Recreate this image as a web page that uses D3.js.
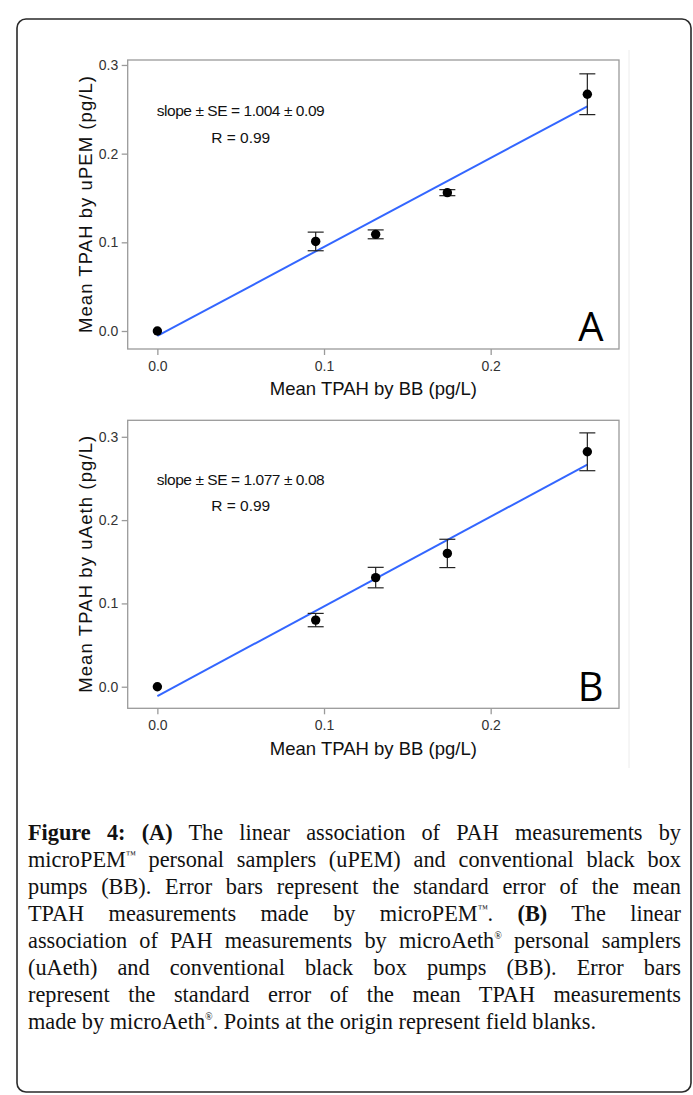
<!DOCTYPE html>
<html>
<head>
<meta charset="utf-8">
<script src="https://cdn.jsdelivr.net/npm/d3@7"></script>
<style>
  body { margin: 0; background: #fff; }
  #wrap { position: relative; width: 693px; height: 1095px; overflow: hidden; }
  #caption { position: absolute; left: 28px; top: 819px; width: 653px;
    font-family: "Liberation Serif", serif; font-size: 22.3px; line-height: 27px; color: #111; }
  #caption div { text-align: justify; text-align-last: justify; white-space: nowrap; height: 27px; }
  #caption div.last { text-align-last: left; }
  #caption b { font-weight: bold; }
  #caption .sup { font-size: 0.45em; position: relative; top: -0.9em; }
</style>
</head>
<body>
<div id="wrap">
  <svg id="chart" width="693" height="1095"></svg>
  <div id="caption"></div>
</div>
<script>
const xTicks = [0, 0.1, 0.2];
const yTicks = [0, 0.1, 0.2, 0.3];
const bbMean = [0, 0.095, 0.131, 0.174, 0.258];
const upemMean = [0, 0.101, 0.109, 0.156, 0.267];
const upemSE = [0, 0.0105, 0.005, 0.0034, 0.023];
const uaethMean = [0, 0.080, 0.131, 0.160, 0.282];
const uaethSE = [0, 0.008, 0.0123, 0.017, 0.0227];
// [intercept, slope]
const fitA = [-0.0056, 1.004];
const fitB = [-0.0112, 1.077];

const svg = d3.select('#chart');

// outer frame and faint image edge
svg.append('rect')
    .attr('x', 17).attr('y', 19).attr('width', 674).attr('height', 1073)
    .attr('rx', 9).attr('fill', 'none').attr('stroke', '#2a2a2a').attr('stroke-width', 1.6);
svg.append('line')
    .attr('x1', 629).attr('x2', 629).attr('y1', 50).attr('y2', 768)
    .attr('stroke', '#ececec').attr('stroke-width', 1);

function drawPanel(opt) {
    const x = d3.scaleLinear().domain([-0.0178, 0.277]).range([127.7, 619]);
    const y = d3.scaleLinear().domain(opt.yDomain).range([opt.bottom, opt.top]);
    const g = svg.append('g');

    g.append('g')
        .attr('transform', `translate(0,${opt.bottom})`)
        .call(d3.axisBottom(x).tickValues(xTicks).tickFormat(d3.format('.1f')).tickSize(6).tickPadding(6))
        .call(a => {
            a.select('.domain').remove();
            a.selectAll('line').attr('stroke', '#9a9a9a').attr('stroke-width', 1.3);
            a.selectAll('text').attr('font-family', 'Liberation Sans, Arial, sans-serif')
                .attr('font-size', 14).attr('fill', '#333');
        });

    g.append('g')
        .attr('transform', 'translate(127.7,0)')
        .call(d3.axisLeft(y).tickValues(yTicks).tickFormat(d3.format('.1f')).tickSize(6).tickPadding(3.5))
        .call(a => {
            a.select('.domain').remove();
            a.selectAll('line').attr('stroke', '#9a9a9a').attr('stroke-width', 1.3);
            a.selectAll('text').attr('font-family', 'Liberation Sans, Arial, sans-serif')
                .attr('font-size', 14).attr('fill', '#333');
        });

    g.append('rect')
        .attr('x', 127.7).attr('y', opt.top)
        .attr('width', 619 - 127.7).attr('height', opt.bottom - opt.top)
        .attr('fill', 'none').attr('stroke', '#9a9a9a').attr('stroke-width', 1.3);

    // regression line over the observed x range
    const xr = d3.extent(bbMean);
    g.append('line')
        .attr('x1', x(xr[0])).attr('y1', y(opt.fit[0] + opt.fit[1] * xr[0]))
        .attr('x2', x(xr[1])).attr('y2', y(opt.fit[0] + opt.fit[1] * xr[1]))
        .attr('stroke', '#3366ff').attr('stroke-width', 2);

    const pts = bbMean.map((v, i) => ({ x: v, y: opt.mean[i], se: opt.se[i] }));
    const eb = g.append('g').attr('stroke', '#222').attr('stroke-width', 1.2);
    pts.filter(d => d.se > 0).forEach(d => {
        eb.append('line').attr('x1', x(d.x)).attr('x2', x(d.x))
            .attr('y1', y(d.y - d.se)).attr('y2', y(d.y + d.se));
        [d.y - d.se, d.y + d.se].forEach(v => {
            eb.append('line').attr('x1', x(d.x) - 8).attr('x2', x(d.x) + 8)
                .attr('y1', y(v)).attr('y2', y(v));
        });
    });
    g.append('g').selectAll('circle').data(pts).enter().append('circle')
        .attr('cx', d => x(d.x)).attr('cy', d => y(d.y)).attr('r', 4.7).attr('fill', '#000');

    const ann = g.append('g').attr('font-family', 'Liberation Sans, Arial, sans-serif')
        .attr('font-size', 15.5).attr('fill', '#111').attr('text-anchor', 'middle');
    ann.append('text').attr('x', x(0.05)).attr('y', y(0.242))
        .attr('textLength', 168).attr('lengthAdjust', 'spacing')
        .text(`slope \u00b1 SE = ${opt.slopeText}`);
    ann.append('text').attr('x', x(0.05)).attr('y', y(0.2115)).text('R = 0.99');

    g.append('text').attr('x', 603.5).attr('y', opt.bottom - 7.6)
        .attr('text-anchor', 'end').attr('font-family', 'Open Sans, sans-serif')
        .attr('font-size', 40).attr('fill', '#000').text(opt.letter);

    g.append('text').attr('x', (127.7 + 619) / 2).attr('y', opt.bottom + 46.3)
        .attr('text-anchor', 'middle').attr('font-family', 'Liberation Sans, Arial, sans-serif')
        .attr('font-size', 18.5).attr('fill', '#111').text('Mean TPAH by BB (pg/L)');

    const cy = (opt.top + opt.bottom) / 2;
    g.append('text').attr('transform', `translate(91.7,${cy}) rotate(-90)`)
        .attr('text-anchor', 'middle').attr('font-family', 'Liberation Sans, Arial, sans-serif')
        .attr('font-size', 18.5).attr('fill', '#111')
        .attr('textLength', 257).attr('lengthAdjust', 'spacing')
        .text(opt.yTitle);
}

drawPanel({
    top: 60, bottom: 349, yDomain: [-0.0203, 0.3056],
    mean: upemMean, se: upemSE, fit: fitA, slopeText: '1.004 \u00b1 0.09',
    letter: 'A', yTitle: 'Mean TPAH by uPEM (pg/L)'
});
drawPanel({
    top: 420.3, bottom: 708.3, yDomain: [-0.0259, 0.3198],
    mean: uaethMean, se: uaethSE, fit: fitB, slopeText: '1.077 \u00b1 0.08',
    letter: 'B', yTitle: 'Mean TPAH by uAeth (pg/L)'
});

const captionLines = [
    '<b>Figure 4: (A)</b> The linear association of PAH measurements by',
    'microPEM<span class="sup">\u2122</span> personal samplers (uPEM) and conventional black box',
    'pumps (BB). Error bars represent the standard error of the mean',
    'TPAH measurements made by microPEM<span class="sup">\u2122</span>. <b>(B)</b> The linear',
    'association of PAH measurements by microAeth<span class="sup">\u00ae</span> personal samplers',
    '(uAeth) and conventional black box pumps (BB). Error bars',
    'represent the standard error of the mean TPAH measurements',
    'made by microAeth<span class="sup">\u00ae</span>. Points at the origin represent field blanks.'
];
d3.select('#caption').selectAll('div').data(captionLines).enter().append('div')
    .classed('last', (d, i) => i === captionLines.length - 1)
    .html(d => d);
</script>
</body>
</html>
